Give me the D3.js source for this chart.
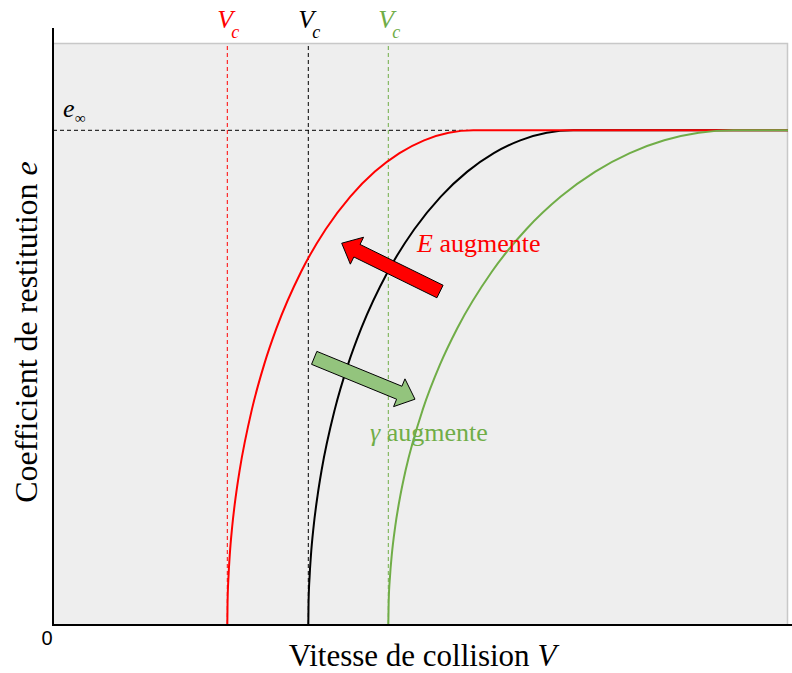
<!DOCTYPE html>
<html>
<head>
<meta charset="utf-8">
<script src="https://cdn.jsdelivr.net/npm/d3@7"></script>
<style>
  html, body { margin: 0; padding: 0; background: #ffffff; }
  svg { display: block; }
</style>
</head>
<body>
<svg id="chart" width="792" height="673"></svg>
<script>
// Restitution coefficient e versus collision speed V for three materials.
const eInf = 0.85;
const vcValues = [3.486, 5.106, 6.706];          // critical speeds (red, black, green)
const xTickValues = [0];

// e levels shared by the sampled points of every curve (last one = plateau at the right edge)
const eSamples = [0, 0.038, 0.0849, 0.12, 0.1692, 0.2229, 0.2654, 0.3705, 0.4478, 0.51, 0.607, 0.68, 0.7361, 0.779, 0.8108, 0.8328, 0.8457, 0.85, 0.85];

// Reference curve (black)
const blackV = [5.106, 5.111, 5.133, 5.159, 5.212, 5.292, 5.371, 5.636, 5.901, 6.166, 6.696, 7.226, 7.756, 8.286, 8.816, 9.346, 9.876, 10.406, 14.70];
// Higher E (red)
const redV = [3.486, 3.491, 3.511, 3.535, 3.584, 3.658, 3.732, 3.978, 4.224, 4.470, 4.962, 5.454, 5.946, 6.438, 6.930, 7.422, 7.914, 8.406, 14.70];
// Higher gamma (green)
const greenV = [6.706, 6.713, 6.741, 6.775, 6.844, 6.948, 7.051, 7.396, 7.741, 8.086, 8.776, 9.466, 10.156, 10.846, 11.536, 12.226, 12.916, 13.606, 14.70];

const RED = "#ff0000", BLACK = "#000000", GREEN = "#70ad47", GREEN_FILL = "#93c47d";
const SERIF = "'Liberation Serif', 'Times New Roman', Times, serif";

const svg = d3.select("#chart");
const plotL = 53, plotR = 788, plotT = 43, plotB = 625;

const x = d3.scaleLinear().domain([0, 14.7]).range([plotL, plotR]);
const y = d3.scaleLinear().domain([0, 1]).range([plotB, plotT]);

// Plot background
svg.append("rect")
  .attr("x", plotL).attr("y", plotT)
  .attr("width", plotR - plotL).attr("height", plotB - plotT)
  .attr("fill", "#eeeeee");
svg.append("path")
  .attr("d", `M${plotL},${plotT + 0.5}H${plotR - 0.5}V${plotB}`)
  .attr("fill", "none").attr("stroke", "#c8c8c8").attr("stroke-width", 1.5);

// Critical-speed guides
const guideColors = [RED, BLACK, GREEN];
vcValues.forEach((vc, i) => {
  svg.append("line")
    .attr("x1", x(vc)).attr("x2", x(vc))
    .attr("y1", y(1) + 3).attr("y2", y(0))
    .attr("stroke", guideColors[i]).attr("stroke-width", 1)
    .attr("stroke-dasharray", "4,3");
  const t = svg.append("text")
    .attr("font-family", SERIF).attr("font-style", "italic")
    .attr("fill", guideColors[i]);
  t.append("tspan").attr("x", x(vc) - 10).attr("y", 28).attr("font-size", 26).text("V");
  t.append("tspan").attr("x", x(vc) + 4).attr("y", 38).attr("font-size", 18).text("c");
});

// e-infinity guide
svg.append("line")
  .attr("x1", x(0)).attr("x2", x(8.3))
  .attr("y1", y(eInf)).attr("y2", y(eInf))
  .attr("stroke", BLACK).attr("stroke-width", 1)
  .attr("stroke-dasharray", "4,3");
const einf = svg.append("text").attr("font-family", SERIF).attr("fill", BLACK);
einf.append("tspan").attr("x", 63).attr("y", 117).attr("font-size", 26).attr("font-style", "italic").text("e");
einf.append("tspan").attr("x", 75).attr("y", 123).attr("font-size", 15).text("∞");

// Curves
const line = d3.line()
  .x(d => x(d[0])).y(d => y(d[1]))
  .curve(d3.curveMonotoneX);
const series = [
  { v: blackV, color: BLACK },
  { v: redV, color: RED },
  { v: greenV, color: GREEN }
];
series.forEach(s => {
  svg.append("path")
    .datum(s.v.map((v, i) => [v, eSamples[i]]))
    .attr("d", line)
    .attr("fill", "none")
    .attr("stroke", s.color)
    .attr("stroke-width", 2);
});

// Block arrows
function blockArrow(tail, tip, shaftW, headW, headL) {
  const dx = tip[0] - tail[0], dy = tip[1] - tail[1];
  const len = Math.hypot(dx, dy);
  const ux = dx / len, uy = dy / len;
  const nx = -uy, ny = ux;
  const nk = [tip[0] - ux * headL, tip[1] - uy * headL];
  const pts = [
    [tail[0] + nx * shaftW / 2, tail[1] + ny * shaftW / 2],
    [nk[0] + nx * shaftW / 2, nk[1] + ny * shaftW / 2],
    [nk[0] + nx * headW / 2, nk[1] + ny * headW / 2],
    tip,
    [nk[0] - nx * headW / 2, nk[1] - ny * headW / 2],
    [nk[0] - nx * shaftW / 2, nk[1] - ny * shaftW / 2],
    [tail[0] - nx * shaftW / 2, tail[1] - ny * shaftW / 2]
  ];
  return "M" + pts.map(p => p.join(",")).join("L") + "Z";
}
svg.append("path")
  .attr("d", blockArrow([x(7.74), y(0.573)], [x(5.774), y(0.656)], 14, 30, 17))
  .attr("fill", RED).attr("stroke", BLACK).attr("stroke-width", 1);
svg.append("path")
  .attr("d", blockArrow([x(5.224), y(0.459)], [x(7.24), y(0.388)], 14, 30, 17))
  .attr("fill", GREEN_FILL).attr("stroke", BLACK).attr("stroke-width", 1);

// Arrow captions
const eLab = svg.append("text").attr("x", x(7.28)).attr("y", y(0.641))
  .attr("font-family", SERIF).attr("font-size", 26).attr("fill", RED);
eLab.append("tspan").attr("font-style", "italic").text("E");
eLab.append("tspan").text(" augmente");
const gLab = svg.append("text").attr("x", x(6.34)).attr("y", y(0.316))
  .attr("font-family", SERIF).attr("font-size", 26).attr("fill", GREEN);
gLab.append("tspan").attr("font-style", "italic").text("γ");
gLab.append("tspan").text(" augmente");

// Axes
const xAxis = svg.append("g")
  .attr("transform", `translate(0,${plotB})`)
  .call(d3.axisBottom(x).tickValues(xTickValues).tickSize(0).tickFormat(d3.format("d")));
xAxis.select(".domain").remove();
xAxis.selectAll("text")
  .style("font-family", "'Liberation Sans', Arial, sans-serif")
  .style("font-size", "20px").attr("fill", BLACK)
  .attr("dx", -6.5).attr("dy", 0).attr("y", 20);

svg.append("line")
  .attr("x1", plotL).attr("x2", 792)
  .attr("y1", plotB).attr("y2", plotB)
  .attr("stroke", BLACK).attr("stroke-width", 2);
svg.append("line")
  .attr("x1", plotL).attr("x2", plotL)
  .attr("y1", 28).attr("y2", plotB + 1)
  .attr("stroke", BLACK).attr("stroke-width", 2);

// Axis titles
const xt = svg.append("text")
  .attr("x", (plotL + plotR) / 2 + 2).attr("y", 666)
  .attr("text-anchor", "middle")
  .attr("font-family", SERIF).attr("font-size", 31).attr("fill", BLACK);
xt.append("tspan").text("Vitesse de collision ");
xt.append("tspan").attr("font-style", "italic").text("V");

const yt = svg.append("text")
  .attr("transform", `translate(37,${(plotT + plotB) / 2 - 2}) rotate(-90)`)
  .attr("text-anchor", "middle")
  .attr("font-family", SERIF).attr("font-size", 32).attr("fill", BLACK);
yt.append("tspan").text("Coefficient de restitution ");
yt.append("tspan").attr("font-style", "italic").text("e");
</script>
</body>
</html>
